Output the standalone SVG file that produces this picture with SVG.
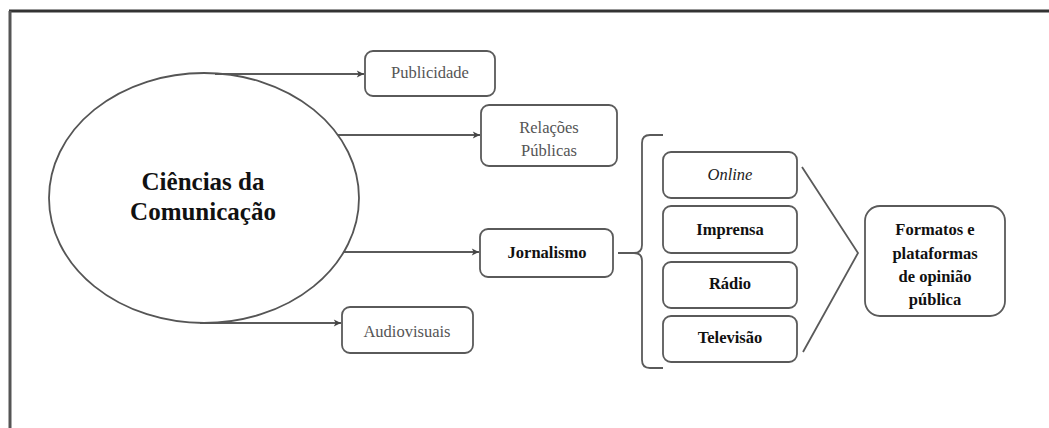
<svg xmlns="http://www.w3.org/2000/svg" width="1049" height="428" viewBox="0 0 1049 428" font-family="Liberation Serif, DejaVu Serif, serif">
<defs>
<style>
.box{fill:#fff;stroke:#5a5a5a;stroke-width:1.8}
.ln{fill:none;stroke:#5a5a5a;stroke-width:1.8}
text{text-anchor:middle}
.g{fill:#555;font-size:16.5px}
.b{fill:#111;font-weight:bold;font-size:16.5px}
</style>
<marker id="ah" viewBox="0 0 10 10" refX="9" refY="5" markerWidth="9" markerHeight="9" markerUnits="userSpaceOnUse" orient="auto">
<path d="M1,1 L9,5 L1,9 L3,5 Z" fill="#444"/>
</marker>
</defs>
<rect x="0" y="0" width="1049" height="428" fill="#fff"/>
<g id="frame">
<line x1="9" y1="11" x2="1049" y2="11" stroke="#333" stroke-width="3"/>
<line x1="10" y1="11" x2="10" y2="428" stroke="#555" stroke-width="3"/>
</g>
<g id="connectors">
<line class="ln" x1="215" y1="74" x2="364" y2="74" marker-end="url(#ah)"/>
<line class="ln" x1="338" y1="135" x2="480" y2="135" marker-end="url(#ah)"/>
<line class="ln" x1="343" y1="252" x2="479" y2="252" marker-end="url(#ah)"/>
<line class="ln" x1="200" y1="323" x2="341" y2="323" marker-end="url(#ah)"/>
<path class="ln" d="M618,253 L634,253 Q642,253 642,245 L642,143 Q642,135 650,135 L663,135 M634,253 Q642,253 642,261 L642,360 Q642,368 650,368 L663,368"/>
<polyline class="ln" points="802,167 858,253 803,352"/>
</g>
<g id="ciencias">
<ellipse cx="204" cy="198" rx="155" ry="125" fill="none" stroke="#555" stroke-width="1.8"/>
<text x="203" y="190" font-size="25" font-weight="bold" fill="#111">Ciências da</text>
<text x="203" y="220" font-size="25" font-weight="bold" fill="#111">Comunicação</text>
</g>
<g id="publicidade">
<rect class="box" x="365" y="51" width="130" height="45" rx="8"/>
<text class="g" x="430" y="78">Publicidade</text>
</g>
<g id="relacoes">
<rect class="box" x="481" y="105" width="136" height="61" rx="8"/>
<text class="g" x="549" y="133">Relações</text>
<text class="g" x="549" y="156">Públicas</text>
</g>
<g id="jornalismo">
<rect class="box" x="480" y="229" width="133" height="48" rx="8"/>
<text class="b" x="547" y="258">Jornalismo</text>
</g>
<g id="audiovisuais">
<rect class="box" x="342" y="307" width="131" height="46" rx="8"/>
<text class="g" x="407" y="337">Audiovisuais</text>
</g>
<g id="online">
<rect class="box" x="663" y="152" width="134" height="46" rx="8"/>
<text x="730" y="180" font-size="16.5" font-style="italic" fill="#222">Online</text>
</g>
<g id="imprensa">
<rect class="box" x="663" y="206" width="134" height="47" rx="8"/>
<text class="b" x="730" y="235">Imprensa</text>
</g>
<g id="radio">
<rect class="box" x="663" y="262" width="134" height="46" rx="8"/>
<text class="b" x="730" y="289">Rádio</text>
</g>
<g id="televisao">
<rect class="box" x="663" y="316" width="134" height="46" rx="8"/>
<text class="b" x="730" y="343">Televisão</text>
</g>
<g id="formatos">
<rect class="box" x="865" y="206" width="140" height="110" rx="15"/>
<text class="b" x="935" y="235">Formatos e</text>
<text class="b" x="935" y="259">plataformas</text>
<text class="b" x="935" y="282">de opinião</text>
<text class="b" x="935" y="305">pública</text>
</g>
</svg>
